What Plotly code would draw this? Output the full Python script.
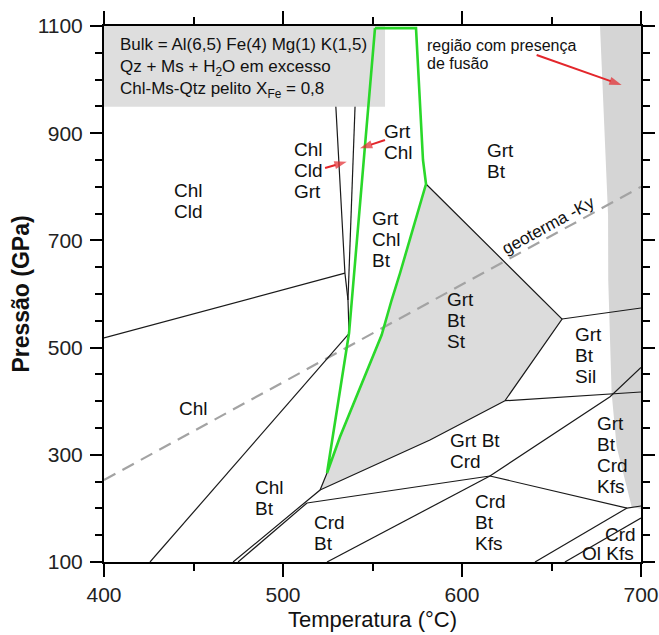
import plotly.graph_objects as go

# ---- axis ticks ----
X_TICKS = [400, 500, 600, 700]
Y_TICKS = [100, 300, 500, 700, 900, 1100]

# ---- phase-field boundaries (T in °C, P in GPa) ----
BOUNDARIES = {
    "chl_chlcld": ([400, 534.6], [518, 639]),
    "cld_left": ([528.7, 534.6, 536.3, 536.9], [1000, 639, 589, 527]),
    "cld_right": ([540.8, 536.9, 536.3], [1000, 639, 589]),
    "chl_chlbt": ([425.7, 536.6], [100, 525]),
    "chlbt_outer": ([472.1, 520.7, 524.6], [100, 234.3, 266]),
    "chlbt_inner": ([474.9, 513.4], [100, 210.1]),
    "crdbt_top": ([513.4, 582.1, 615.6], [210.1, 243.7, 260.4]),
    "st_bottom": ([520.7, 582.1, 624.0], [234.3, 327.6, 400.9]),
    "st_right": ([579.9, 655.9, 624.0], [805.2, 553.4, 400.9]),
    "sil_top": ([655.9, 700], [553.4, 573.9]),
    "sil_bottom": ([624.0, 700], [400.9, 417.2]),
    "crd_kfs": ([524.6, 615.6], [100, 260.4]),
    "kfs_upper": ([615.6, 682.7, 700], [260.4, 408.4, 462.9]),
    "kfs_lower": ([615.6, 692.2, 700], [260.4, 200.7, 204.5]),
    "ol_a": ([640.8, 692.2], [100, 200.7]),
    "ol_b": ([657.5, 700], [100, 182]),
}

# Grt-Chl-Bt field (green outline)
GREEN_T = [551.4, 574.3, 578.2, 579.9, 565.4, 560.7, 555.1, 531.8, 524.6,
           531.8, 536.9, 551.4]
GREEN_P = [1096, 1096, 850, 805.2, 639.2, 588.8, 523.5, 333.2, 266.0,
           415.3, 527.2, 1096]

# Grt-Bt-St field (shaded)
ST_T = [520.7, 524.6, 531.8, 555.1, 560.7, 565.4, 579.9, 655.9, 624.0, 582.1, 520.7]
ST_P = [234.3, 266.0, 333.2, 523.5, 588.8, 639.2, 805.2, 553.4, 400.9, 327.6, 234.3]

# region with melt present
MELT_T = [677.1, 681.6, 681.7, 682.7, 683.6, 686.4, 694.8, 700, 700, 677.1]
MELT_P = [1100, 747.4, 626.1, 501.7, 414.7, 315.1, 203.2, 199, 1100, 1100]

# Ky geotherm
GEO_T = [400, 700]
GEO_P = [253, 800]

# info box
BOX_T = [400, 557.0, 557.0, 400, 400]
BOX_P = [949.5, 949.5, 1100, 1100, 949.5]
BOX_LINES = [
    "Bulk = Al(6,5) Fe(4) Mg(1) K(1,5)",
    "Qz + Ms + H<sub>2</sub>O em excesso",
    "Chl-Ms-Qtz pelito X<sub>Fe</sub> = 0,8",
]
BOX_CENTER_P = 1022.5
BOX_LEFT_T = 408.0

MELT_NOTE = ["região com presença", "de fusão"]
MELT_NOTE_T = 579.3
MELT_NOTE_P = 1046

# field labels: lines, left T, centre P
FIELD_LABELS = [
    (["Chl", "Cld", "Grt"], 505.0, 829.5),
    (["Grt", "Chl"], 555.3, 884.5),
    (["Grt", "Bt"], 612.8, 848.1),
    (["Chl", "Cld"], 438.0, 772.6),
    (["Grt", "Chl", "Bt"], 548.6, 702.2),
    (["Grt", "Bt", "St"], 590.5, 551.5),
    (["Grt", "Bt", "Sil"], 662.0, 486.2),
    (["Grt", "Bt", "Crd", "Kfs"], 674.3, 299.6),
    (["Grt Bt", "Crd"], 592.2, 307.1),
    (["Chl"], 440.6, 386.8),
    (["Chl", "Bt"], 483.4, 218.8),
    (["Crd", "Bt"], 516.0, 153.5),
    (["Crd", "Bt", "Kfs"], 606.1, 172.8),
    (["Crd"], 678.8, 151.7),
    (["Ol Kfs"], 666.0, 116.2),
]

# red arrows: (tail T, tail P, head T, head P)
ARROWS = [
    (641.7, 1045.9, 689.2, 989.9),
    (523.5, 835.1, 535.6, 846.8),
    (557.0, 887.3, 543.0, 871.8),
]

FONT = "Liberation Sans, Arial, sans-serif"
LINE_H = 21
RED = "#e3262b"

fig = go.Figure()

fig.add_trace(go.Scatter(x=MELT_T, y=MELT_P, mode="lines", fill="toself",
                         fillcolor="#d5d5d5", line=dict(width=0),
                         hoverinfo="skip", showlegend=False))
fig.add_trace(go.Scatter(x=ST_T, y=ST_P, mode="lines", fill="toself",
                         fillcolor="#dcdcdc", line=dict(width=0),
                         hoverinfo="skip", showlegend=False))
fig.add_trace(go.Scatter(x=GEO_T, y=GEO_P, mode="lines",
                         line=dict(color="#a3a3a3", width=2.2, dash="13px,8px"),
                         hoverinfo="skip", showlegend=False))
for name, (ts, ps) in BOUNDARIES.items():
    fig.add_trace(go.Scatter(x=ts, y=ps, mode="lines", name=name,
                             line=dict(color="#1a1a1a", width=1.2),
                             hoverinfo="skip", showlegend=False))
fig.add_trace(go.Scatter(x=BOX_T, y=BOX_P, mode="lines", fill="toself",
                         fillcolor="#dedede", line=dict(width=0),
                         hoverinfo="skip", showlegend=False))
fig.add_trace(go.Scatter(x=GREEN_T, y=GREEN_P, mode="lines",
                         line=dict(color="#2ad82a", width=2.6),
                         hoverinfo="skip", showlegend=False))

# red arrows: shaft plus an arrow marker oriented along the shaft
for t0, p0, t1, p1 in ARROWS:
    fig.add_trace(go.Scatter(
        x=[t0, t1], y=[p0, p1], mode="lines+markers",
        line=dict(color=RED, width=2),
        marker=dict(symbol="arrow", size=[0, 13], angleref="previous",
                    color=RED, line=dict(width=0)),
        hoverinfo="skip", showlegend=False, cliponaxis=False))


def add_lines(lines, t, p_center, size, lh, xanchor="left"):
    n = len(lines)
    for i, txt in enumerate(lines):
        fig.add_annotation(x=t, y=p_center, xref="x", yref="y", text=txt,
                           showarrow=False, xanchor=xanchor, yanchor="middle",
                           yshift=(n - 1) / 2 * lh - i * lh,
                           font=dict(family=FONT, size=size, color="#111111"))


for lines, t, p in FIELD_LABELS:
    add_lines(lines, t, p, 19, LINE_H)

fig.add_annotation(x=BOX_LEFT_T, y=BOX_CENTER_P, xref="x", yref="y",
                   text="<br>".join(BOX_LINES), showarrow=False,
                   xanchor="left", yanchor="middle", align="left",
                   font=dict(family=FONT, size=17, color="#111111"))

add_lines(MELT_NOTE, MELT_NOTE_T, MELT_NOTE_P, 16, 18)

fig.add_annotation(x=648.2, y=728.7, xref="x", yref="y", text="geoterma -Ky",
                   showarrow=False, textangle=-28.6,
                   font=dict(family=FONT, size=17, color="#111111"))

axis_common = dict(
    showline=True, linecolor="black", linewidth=2, mirror="allticks",
    ticks="outside", tickcolor="black", tickwidth=1.5,
    showgrid=False, zeroline=False, automargin=False,
    tickfont=dict(family=FONT, size=21, color="#222222"),
)

fig.update_xaxes(range=[400, 700], tickvals=X_TICKS, ticklen=13,
                 minor=dict(dtick=50, ticks="outside", ticklen=7,
                            tickwidth=1.5, tickcolor="black"),
                 title=dict(text="Temperatura (°C)", standoff=6,
                            font=dict(family=FONT, size=22, color="#111111")),
                 **axis_common)
fig.update_yaxes(range=[100, 1100], tickvals=Y_TICKS, ticklen=12,
                 ticklabelstandoff=3,
                 minor=dict(dtick=50, ticks="outside", ticklen=7,
                            tickwidth=1.5, tickcolor="black"),
                 title=dict(text="<b>Pressão (GPa)</b>", standoff=2,
                            font=dict(family=FONT, size=23, color="#111111")),
                 **axis_common)

fig.update_layout(width=659, height=635,
                  margin=dict(l=104, r=18, t=26, b=73),
                  paper_bgcolor="white", plot_bgcolor="white",
                  font=dict(family=FONT))

fig.write_html("out.html")
